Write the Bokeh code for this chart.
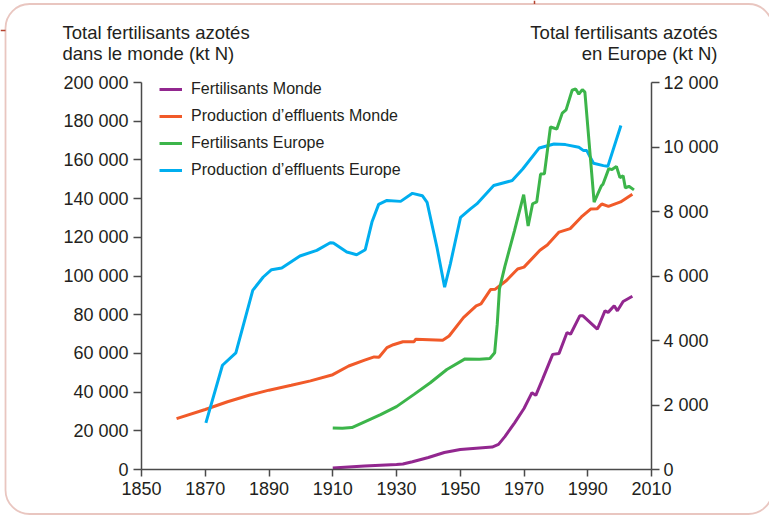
from bokeh.plotting import figure
from bokeh.models import (Range1d, LinearAxis, FixedTicker, Legend, LegendItem,
                          Label, BoxAnnotation)
from bokeh.embed import file_html
from bokeh.resources import INLINE

# ---------------- data ----------------
series_names = ["Fertilisants Monde", "Production d\u2019effluents Monde",
                "Fertilisants Europe", "Production d\u2019effluents Europe"]

# World fertiliser (kt N, left axis)
years_fert_monde = [1910, 1915, 1920, 1925, 1930, 1932, 1935, 1940, 1945, 1950,
                    1955, 1960, 1962, 1964, 1967, 1970, 1972.5, 1973.7, 1975.8,
                    1979, 1981, 1983.5, 1984.6, 1987.5, 1988.5, 1993, 1995.4,
                    1996.4, 1998.3, 1999.3, 2001.1, 2004]
fert_monde = [800, 1300, 1800, 2200, 2600, 2800, 4000, 6200, 8800, 10300,
              11000, 11600, 13000, 17000, 24000, 31500, 39700, 38300, 46600,
              59500, 60000, 70800, 69900, 79400, 79400, 72500, 82000,
              81200, 84600, 82000, 86800, 89500]

# World manure production (kt N, left axis)
years_eff_monde = [1861, 1870, 1877, 1884, 1890, 1897, 1903, 1910, 1915, 1920,
                   1923, 1924.5, 1927, 1929, 1932, 1935.5, 1936, 1944.5, 1946.5,
                   1951, 1955, 1956.5, 1959.5, 1961, 1964.5, 1968, 1970, 1975,
                   1977.3, 1981, 1984.5, 1988, 1990.9, 1993, 1994.4, 1996.5,
                   2000.3, 2004]
eff_monde = [26300, 31000, 35000, 38500, 41000, 43500, 45800, 49000, 53500, 56500,
             58200, 58000, 63000, 64500, 66000, 66000, 67300, 66800, 69000,
             78500, 84600, 85600, 93000, 93200, 97700, 103600, 104600, 113300,
             116000, 122700, 124500, 130500, 134600, 134800, 137200, 136000,
             138300, 142300]

# Europe fertiliser (kt N, right axis)
years_fert_europe = [1910, 1913, 1916, 1920, 1925, 1930, 1935.5, 1940.6, 1945.8,
                     1951.5, 1956, 1959.3, 1960.8, 1961.6, 1962.3, 1964, 1967,
                     1969.9, 1971.3, 1972.7, 1974, 1975.2, 1976.4, 1978.3, 1980.3,
                     1982, 1983.2, 1985.1, 1986.2, 1987.2, 1988.3, 1989.1, 1992,
                     1994.3, 1994.8, 1996.6, 1997.6, 1999, 2000.1, 2001.1, 2001.8,
                     2002.9, 2004.5]
fert_europe = [1290, 1280, 1300, 1480, 1700, 1950, 2330, 2690, 3100,
               3430, 3420, 3440, 3620, 4500, 5600, 6300, 7400,
               8520, 7550, 8240, 8300, 9160, 9170, 10620, 10560,
               11050, 11150, 11760, 11800, 11640, 11780, 11700, 8290,
               8800, 8850, 9330, 9300, 9400, 9050, 9110, 8730,
               8780, 8670]

# Europe manure production (kt N, right axis)
years_eff_europe = [1870.2, 1875.4, 1879.6, 1884.9, 1888.2, 1890.8, 1894, 1899.7,
                    1905, 1909.2, 1910.2, 1914.4, 1917.5, 1920.2, 1922.3, 1924.4,
                    1927, 1931.3, 1935, 1938.1, 1939.6, 1942.7, 1945.1, 1946.9,
                    1950.1, 1953.2, 1955.2, 1960.5, 1966.3, 1969.6, 1974.8, 1979.4,
                    1983, 1987.2, 1988.7, 1989.7, 1991.8, 1994.9, 1996.3, 2000.4]
eff_europe = [1446, 3232, 3614, 5556, 5969, 6196, 6248, 6620,
              6795, 7033, 7022, 6744, 6661, 6816, 7673, 8220,
              8344, 8314, 8563, 8490, 8283, 6885, 5652, 6377,
              7821, 8081, 8235, 8804, 8959, 9319, 9971, 10095,
              10074, 9992, 9888, 9888, 9495, 9422, 9400, 10665]

x_ticks = [1850, 1870, 1890, 1910, 1930, 1950, 1970, 1990, 2010]
left_ticks = [0, 20000, 40000, 60000, 80000, 100000, 120000, 140000, 160000,
              180000, 200000]
left_tick_labels = ["0", "20 000", "40 000", "60 000", "80 000", "100 000",
                    "120 000", "140 000", "160 000", "180 000", "200 000"]
right_ticks = [0, 2000, 4000, 6000, 8000, 10000, 12000]
right_tick_labels = ["0", "2 000", "4 000", "6 000", "8 000", "10 000", "12 000"]

title_left = ["Total fertilisants azot\u00e9s", "dans le monde (kt N)"]
title_right = ["Total fertilisants azot\u00e9s", "en Europe (kt N)"]

# ---------------- layout & styles ----------------
FONT = "Liberation Sans"
TXT = "#231f20"
AX = "#4a4a4a"
RED = "#b5432f"
colors = ["#92278f", "#f15a29", "#3cb54a", "#00aeef"]

W, H = 769, 516
X0, X1 = 1850, 2010          # data extent of the x axis
Y0, Y1 = 0, 200000           # left axis extent
YR0, YR1 = 0, 12000          # right axis extent
AX_L, AX_R, AX_T, AX_B = 141, 651, 82, 469   # pixel positions of the axes

xs = (X1 - X0) / (AX_R - AX_L)
ys = (Y1 - Y0) / (AX_B - AX_T)
yrs = (YR1 - YR0) / (AX_B - AX_T)

def px2x(px):
    return X0 + (px - AX_L) * xs

def px2y(py):
    return Y0 + (AX_B - py) * ys

p = figure(width=W, height=H, output_backend="svg", toolbar_location=None,
           title_location=None,
           x_range=Range1d(px2x(0), px2x(W)),
           y_range=Range1d(px2y(H), px2y(0)),
           min_border_left=0, min_border_right=0,
           min_border_top=0, min_border_bottom=0)
p.extra_y_ranges = {"eu": Range1d(YR0 - (H - AX_B) * yrs, YR1 + AX_T * yrs)}
p.grid.visible = False
p.outline_line_color = None
p.background_fill_color = "white"
p.border_fill_color = "white"

def style_axis(ax, standoff, tick_out=8):
    ax.axis_line_color = AX
    ax.axis_line_width = 1.5
    ax.major_tick_line_color = AX
    ax.major_tick_line_width = 1.5
    ax.major_tick_out = tick_out
    ax.major_tick_in = 0
    ax.minor_tick_line_color = None
    ax.major_label_text_font = FONT
    ax.major_label_text_font_size = "18px"
    ax.major_label_text_color = TXT
    ax.major_label_standoff = standoff

xa = p.xaxis[0]
style_axis(xa, 5, 7)
xa.ticker = FixedTicker(ticks=x_ticks)
xa.fixed_location = Y0
xa.bounds = (X0, X1)

ya = p.yaxis[0]
style_axis(ya, 5)
ya.ticker = FixedTicker(ticks=left_ticks)
ya.major_label_overrides = dict(zip(left_ticks, left_tick_labels))
ya.fixed_location = X0
ya.bounds = (Y0, Y1)

ra = LinearAxis(y_range_name="eu")
style_axis(ra, 4)
ra.ticker = FixedTicker(ticks=right_ticks)
ra.major_label_overrides = dict(zip(right_ticks, right_tick_labels))
ra.fixed_location = X1
ra.bounds = (YR0, YR1)
p.add_layout(ra, "right")

# ---------------- rounded frame (decoration) ----------------
p.add_layout(BoxAnnotation(left=px2x(5), right=px2x(772), top=px2y(3.5),
                           bottom=px2y(513.5), border_radius=24,
                           fill_alpha=0, line_color=RED, line_width=1.8,
                           level="underlay"))
p.segment(x0=[px2x(0), px2x(534)], y0=[px2y(30), px2y(0)],
          x1=[px2x(5), px2x(534)], y1=[px2y(30), px2y(3.5)],
          line_color=RED, line_width=1.5)

# ---------------- lines ----------------
r_eff_m = p.line(years_eff_monde, eff_monde, line_color=colors[1], line_width=3)
r_fert_m = p.line(years_fert_monde, fert_monde, line_color=colors[0], line_width=3)
r_eff_e = p.line(years_eff_europe, eff_europe, line_color=colors[3], line_width=3,
                 y_range_name="eu")
r_fert_e = p.line(years_fert_europe, fert_europe, line_color=colors[2], line_width=3,
                  y_range_name="eu")

legend = Legend(items=[
    LegendItem(label=series_names[0], renderers=[r_fert_m]),
    LegendItem(label=series_names[1], renderers=[r_eff_m]),
    LegendItem(label=series_names[2], renderers=[r_fert_e]),
    LegendItem(label=series_names[3], renderers=[r_eff_e]),
], location=(159, H - 180))
legend.label_text_font = FONT
legend.label_text_font_size = "16px"
legend.label_text_color = TXT
legend.glyph_width = 23
legend.glyph_height = 20
legend.label_height = 20
legend.label_standoff = 9
legend.spacing = 7
legend.padding = 0
legend.margin = 0
legend.border_line_color = None
legend.background_fill_alpha = 0
p.add_layout(legend)

# ---------------- titles ----------------
for i, t in enumerate(title_left):
    p.add_layout(Label(x=px2x(62), y=px2y(32 + 21 * i), text=t, text_font=FONT,
                       text_font_size="18.5px", text_color=TXT,
                       text_align="left", text_baseline="alphabetic"))
for i, t in enumerate(title_right):
    p.add_layout(Label(x=px2x(717), y=px2y(32 + 21 * i), text=t, text_font=FONT,
                       text_font_size="18.5px", text_color=TXT,
                       text_align="right", text_baseline="alphabetic"))

open("out.html", "w").write(file_html(p, INLINE))
